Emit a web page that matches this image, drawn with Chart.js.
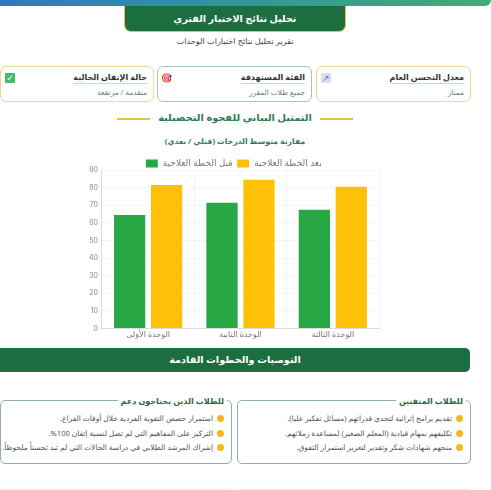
<!DOCTYPE html>
<html lang="ar" dir="rtl">
<head>
<meta charset="utf-8">
<title>تحليل نتائج الاختبار الفتري</title>
<script src="https://cdn.jsdelivr.net/npm/chart.js"></script>
<style>
    html, body { margin: 0; padding: 0; background: #fff; }
    body { width: 491px; height: 490px; overflow: hidden; position: relative; font-family: "Noto Sans", "DejaVu Sans", sans-serif; color: #555; filter: blur(0.3px); }
    .abs { position: absolute; box-sizing: border-box; }
    .topbar { left: -8px; top: 0; width: 499px; height: 6px; background: linear-gradient(90deg, #2a7dbb, #3fae75); border-radius: 0 0 6px 6px; }
    .tab { left: 124px; top: 6px; width: 222px; height: 26px; background: #1b6e3f; border: 1px solid #e6c14d; border-top: 0; border-radius: 0 0 7px 7px; color: #fff; font-size: 9.6px; font-weight: bold; text-align: center; line-height: 25px; }
    .sub { left: 124px; top: 34px; width: 222px; text-align: center; font-size: 8.2px; line-height: 14px; color: #444; }
    .card { top: 66px; height: 36px; border: 1px solid #f0d98a; border-radius: 6px; background: #fff; padding: 3px 6px; }
    .card.mid { border-color: #9fc9b2; }
    .card b { display: table; font-size: 8px; line-height: 13px; color: #333; border-bottom: 1px solid #ecd68d; }
    .card span { display: block; font-size: 7.4px; line-height: 12px; color: #777; margin-top: 2px; }
    .card i { position: absolute; left: 4px; top: 6px; width: 10px; height: 10px; border-radius: 1px; font-style: normal; font-size: 9px; line-height: 10px; text-align: center; }
    .card i.chart { background: #dcdcf2; color: #6a6ac0; }
    .card i.check { background: #3fbf6a; color: #fff; }
    .head2 { left: 80px; top: 110px; width: 310px; text-align: center; font-size: 9.8px; font-weight: bold; color: #2e7d55; line-height: 16px; }
    .rule { height: 2px; width: 33px; background: #e9c046; top: 118px; }
    .head3 { left: 80px; top: 134px; width: 310px; text-align: center; font-size: 7.7px; font-weight: bold; color: #2e7d55; line-height: 14px; }
    .chartbox { left: 88px; top: 155px; width: 293px; height: 185px; direction: ltr; }
    .band { left: 0; top: 348px; width: 470px; height: 24px; background: #1b6e3f; border-radius: 0 5px 5px 0; color: #fff; text-align: center; font-size: 9.7px; font-weight: bold; line-height: 24px; }
    .box { top: 400px; height: 64px; border: 1px solid #8fb0a0; border-radius: 5px; }
    .box h4 { position: absolute; top: -7px; right: 4px; margin: 0; padding: 0 3px; background: #fff; font-size: 8px; line-height: 13px; color: #1b6e3f; }
    .box ul { list-style: none; margin: 0; padding: 10px 7px 0 0; font-size: 7.5px; line-height: 14.5px; color: #555; white-space: nowrap; }
    .box li::before { content: ""; display: inline-block; width: 7px; height: 7px; border-radius: 50%; background: #f2b91d; margin-left: 4px; vertical-align: -1px; }
    .edge { top: 489px; height: 1px; }
</style>
</head>
<body>
<div class="abs topbar"></div>
<div class="abs tab">تحليل نتائج الاختبار الفتري</div>
<div class="abs sub">تقرير تحليل نتائج اختبارات الوحدات</div>

<div class="abs card" style="left:316px;width:155px"><b>معدل التحسن العام</b><span>ممتاز</span><i class="chart">↗</i></div>
<div class="abs card mid" style="left:157px;width:155px"><b>الفئة المستهدفة</b><span>جميع طلاب المقرر</span><i>🎯</i></div>
<div class="abs card" style="left:0;width:154px"><b>حالة الإتقان الحالية</b><span>متقدمة / مرتفعة</span><i class="check">✓</i></div>

<div class="abs rule" style="left:117px"></div>
<div class="abs rule" style="left:320px"></div>
<div class="abs head2">التمثيل البياني للفجوة التحصيلية</div>
<div class="abs head3">مقارنة متوسط الدرجات (قبلي / بعدي)</div>

<div class="abs chartbox"><canvas id="gapChart"></canvas></div>

<div class="abs band">التوصيات والخطوات القادمة</div>

<div class="abs box" style="left:237px;width:234px">
    <h4>للطلاب المتقنين</h4>
    <ul>
        <li>تقديم برامج إثرائية لتحدي قدراتهم (مسائل تفكير عليا).</li>
        <li>تكليفهم بمهام قيادية (المعلم الصغير) لمساعدة زملائهم.</li>
        <li>منحهم شهادات شكر وتقدير لتعزيز استمرار التفوق.</li>
    </ul>
</div>
<div class="abs box" style="left:0;width:232px">
    <h4>للطلاب الذين يحتاجون دعم</h4>
    <ul>
        <li>استمرار حصص التقوية الفردية خلال أوقات الفراغ.</li>
        <li>التركيز على المفاهيم التي لم تصل لنسبة إتقان 100%.</li>
        <li>إشراك المرشد الطلابي في دراسة الحالات التي لم تبد تحسناً ملحوظاً.</li>
    </ul>
</div>
<div class="abs edge" style="left:0;width:231px;background:#fbf3d8"></div>
<div class="abs edge" style="left:239px;width:231px;background:#e3efe8"></div>

<script>
    // البيانات
    const units = ['الوحدة الأولى', 'الوحدة الثانية', 'الوحدة الثالثة'];
    const beforeLabel = 'قبل الخطة العلاجية';
    const afterLabel = 'بعد الخطة العلاجية';
    const beforeScores = [65, 72, 68];
    const afterScores = [82, 85, 81];

    const fontFamily = '"Noto Sans", "DejaVu Sans", sans-serif';

    // less room under the legend than Chart.js gives by default
    const tightLegend = {
        id: 'tightLegend',
        beforeInit(chart) {
            const fit = chart.legend.fit;
            chart.legend.fit = function () {
                fit.call(this);
                this.height = 15;
            };
        }
    };

    new Chart(document.getElementById('gapChart').getContext('2d'), {
        type: 'bar',
        plugins: [tightLegend],
        data: {
            labels: units,
            datasets: [
                { label: beforeLabel, data: beforeScores, backgroundColor: '#28a745', borderColor: '#fff', borderWidth: 1 },
                { label: afterLabel, data: afterScores, backgroundColor: '#ffc107', borderColor: '#fff', borderWidth: 1 }
            ]
        },
        options: {
            responsive: true,
            maintainAspectRatio: false,
            animation: false,
            layout: { padding: { left: 0, right: 2 } },
            plugins: {
                legend: {
                    position: 'top',
                    labels: { boxWidth: 13, boxHeight: 9, padding: 4, color: '#777', font: { size: 9, family: fontFamily } }
                },
                tooltip: { enabled: false }
            },
            scales: {
                y: {
                    min: 0,
                    max: 90,
                    ticks: { stepSize: 10, padding: 1, color: '#888', font: { size: 7, family: 'Inter, sans-serif', lineHeight: 0.8 } },
                    grid: { color: '#f4f4f4', tickLength: 3 }
                },
                x: {
                    ticks: { padding: 0, color: '#777', font: { size: 8, family: fontFamily } },
                    grid: { color: '#f4f4f4', tickLength: 2 }
                }
            }
        }
    });
</script>
</body>
</html>
